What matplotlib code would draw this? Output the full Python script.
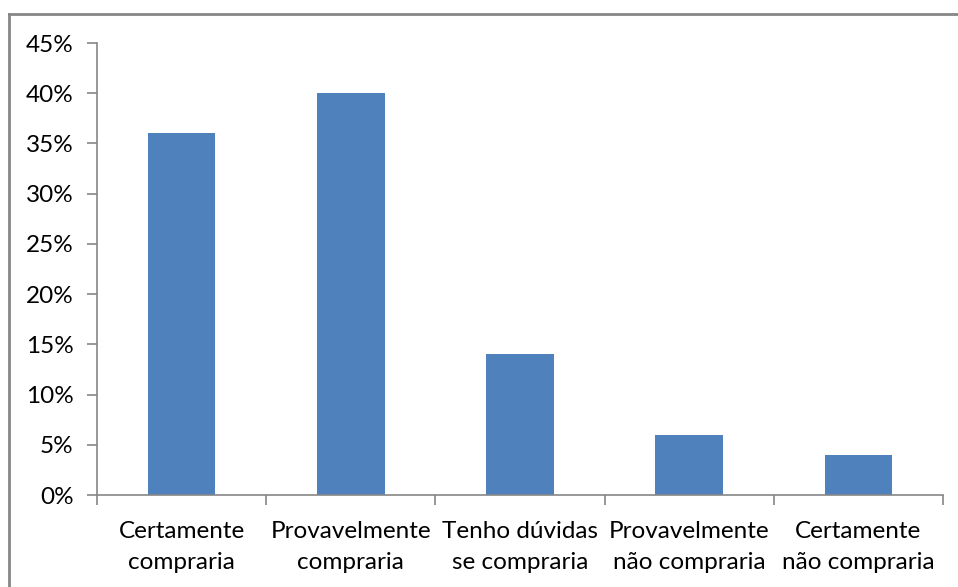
import matplotlib
matplotlib.use("Agg")
import matplotlib.pyplot as plt
from matplotlib.lines import Line2D
from matplotlib.ticker import FuncFormatter, FixedLocator, NullFormatter

categories = ["Certamente\ncompraria", "Provavelmente\ncompraria", "Tenho dúvidas\nse compraria",
              "Provavelmente\nnão compraria", "Certamente\nnão compraria"]
values = [36, 40, 14, 6, 4]
y_ticks = [0, 5, 10, 15, 20, 25, 30, 35, 40, 45]

plt.rcParams['font.family'] = ['Lato', 'DejaVu Sans']

fig = plt.figure(figsize=(9.58, 5.87), dpi=100)
ax = fig.add_axes([97 / 958, 1 - 495 / 587, 846 / 958, 452 / 587])

x = list(range(len(categories)))
ax.bar(x, values, width=0.4, color="#4f81bd", zorder=2)

ax.set_xlim(-0.5, len(categories) - 0.5)
ax.set_ylim(0, 45)
ax.set_yticks(y_ticks)
ax.yaxis.set_major_formatter(FuncFormatter(lambda v, p: f"{int(v)}%"))

# category labels centered, ticks on the boundaries
ax.set_xticks(x)
ax.set_xticklabels(categories, fontsize=17.5, linespacing=1.55)
ax.tick_params(axis="x", which="major", length=0, pad=19)
ax.xaxis.set_minor_locator(FixedLocator([i - 0.5 for i in range(len(categories) + 1)]))
ax.xaxis.set_minor_formatter(NullFormatter())
ax.tick_params(axis="x", which="minor", length=7, width=1.2, color="#868686")
ax.tick_params(axis="y", length=7, width=1.2, color="#868686", labelsize=17.5, pad=10)

for s in ["top", "right"]:
    ax.spines[s].set_visible(False)
for s in ["left", "bottom"]:
    ax.spines[s].set_color("#868686")
    ax.spines[s].set_linewidth(1.2)

# chart-area border (top and left edges)
fig.add_artist(Line2D([9 / 958, 1.0], [1 - 14 / 587, 1 - 14 / 587], transform=fig.transFigure,
                      color="#868686", lw=2))
fig.add_artist(Line2D([9 / 958, 9 / 958], [0.0, 1 - 14 / 587], transform=fig.transFigure,
                      color="#868686", lw=2))

fig.savefig("out.png", dpi=100)
